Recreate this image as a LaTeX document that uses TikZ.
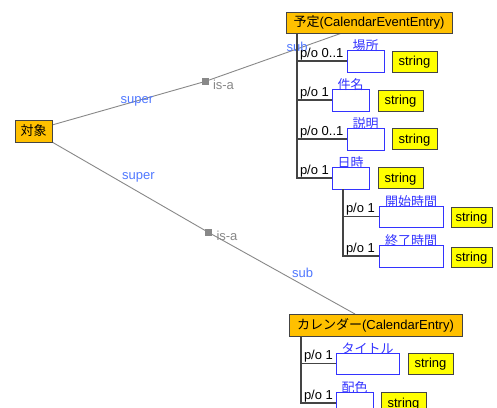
\documentclass[tikz,border=0pt]{standalone}
\usepackage{fontspec}
\usetikzlibrary{calc,backgrounds}
\setmainfont{Liberation Sans}
\newfontfamily\jp{Noto Sans CJK JP}
\definecolor{clsfill}{RGB}{255,192,0}
\definecolor{strfill}{RGB}{255,255,0}
\definecolor{slotblue}{RGB}{51,51,255}
\definecolor{relblue}{RGB}{80,120,255}
\definecolor{linegray}{RGB}{136,136,136}
\definecolor{treegray}{RGB}{68,68,68}
\tikzset{
  base/.style={inner sep=0pt, outer sep=0pt, font=\fontsize{13}{15}\selectfont},
  boxtext/.style={text height=10.5pt, text depth=2pt},
  clsbox/.style={base, boxtext, draw=treegray, fill=clsfill, line width=1pt, minimum height=21pt},
  strbox/.style={base, boxtext, draw=treegray, fill=strfill, line width=1pt, minimum width=45pt, minimum height=21pt},
  slotbox/.style={base, draw=slotblue, fill=white, line width=1pt, minimum height=22pt},
  slotname/.style={base, text=slotblue, anchor=south, inner sep=0pt, yshift=-1.5pt},
  polabel/.style={base, anchor=south west, inner sep=1pt, text=black},
  rellabel/.style={base, text=relblue},
  isalabel/.style={base, text=linegray},
  isamark/.style={fill=linegray, minimum size=7pt, inner sep=0pt},
  rel/.style={draw=linegray, line width=0.9pt},
  tree/.style={draw=treegray, line width=1.2pt}
}
\begin{document}
\begin{tikzpicture}[x=1pt,y=-1pt]
\useasboundingbox (0,0) rectangle (497,407);
\clip (0,0) rectangle (497,407);

% class nodes
\node[clsbox, minimum width=37pt, minimum height=22pt] (taisho) at (33.5,131) {\jp 対象};
\node[clsbox, minimum width=166pt] (yotei) at (369,22.5) {{\jp 予定}(CalendarEventEntry)};
\node[clsbox, minimum width=173pt, minimum height=22pt] (kal) at (375.5,325) {{\jp カレンダー}(CalendarEntry)};

% is-a marks
\node[isamark] (m1) at (205,81.5) {};
\node[isamark] (m2) at (208.3,232.3) {};

\begin{scope}[on background layer]
\fill[white] (0,0) rectangle (497,407);
\draw[rel] (taisho.east |- 0,125) -- (m1.center) -- ($(yotei.south west)+(56,0)$);
\draw[rel] (taisho.east |- 0,142) -- (m2.center) -- ($(kal.north west)+(66,0)$);
\end{scope}

\node[isalabel] (l1) at (223.5,84.5) {is-a};
\node[isalabel] (l2) at (227,236) {is-a};
\node[rellabel] (s1) at (137,101) {super};
\node[rellabel] (s2) at (138.5,177) {super};
\node[rellabel] (b1) at (297,46.5) {sub};
\node[rellabel] (b2) at (302.5,273) {sub};

% slots
\node[slotbox, minimum width=37pt] (basho) at (365.5,61) {};
\node[slotbox, minimum width=37pt] (kenmei) at (350.5,100) {};
\node[slotbox, minimum width=37pt] (setsu) at (365.5,139) {};
\node[slotbox, minimum width=37pt] (nichi) at (350.5,178) {};
\node[slotbox, minimum width=64pt, minimum height=21pt] (kaishi) at (411,216.5) {};
\node[slotbox, minimum width=64pt] (shuryo) at (411,256) {};
\node[slotbox, minimum width=63pt, minimum height=21pt] (title) at (367.5,363.5) {};
\node[slotbox, minimum width=37pt] (haish) at (354.5,403) {};

\node[slotname] (n1) at (basho.north) {\jp 場所};
\node[slotname] (n2) at (kenmei.north) {\jp 件名};
\node[slotname] (n3) at (setsu.north) {\jp 説明};
\node[slotname] (n4) at (nichi.north) {\jp 日時};
\node[slotname] (n5) at (kaishi.north) {\jp 開始時間};
\node[slotname] (n6) at (shuryo.north) {\jp 終了時間};
\node[slotname] (n7) at (title.north) {\jp タイトル};
\node[slotname] (n8) at (haish.north) {\jp 配色};

\node[strbox] (t1) at (414.5,61.5) {string};
\node[strbox] (t2) at (400.5,100.5) {string};
\node[strbox] (t3) at (414.5,139) {string};
\node[strbox] (t4) at (400.5,178) {string};
\node[strbox, minimum width=41pt, minimum height=20pt] (t5) at (471.5,217.5) {string};
\node[strbox, minimum width=41pt, minimum height=20pt] (t6) at (471.5,257) {string};
\node[strbox] (t7) at (430.5,363.5) {string};
\node[strbox] (t8) at (403.5,403) {string};

% tree lines
\coordinate (v1) at ($(yotei.south west)+(11,0)$);
\coordinate (v2) at ($(nichi.south west)+(11,0)$);
\coordinate (v3) at ($(kal.south west)+(12,0)$);
\draw[tree] (v1) |- (nichi.west);
\draw[tree] (v1 |- basho.west) -- (basho.west);
\draw[tree] (v1 |- kenmei.west) -- (kenmei.west);
\draw[tree] (v1 |- setsu.west) -- (setsu.west);
\draw[tree] (v2) |- (shuryo.west);
\draw[tree] (v2 |- kaishi.west) -- (kaishi.west);
\draw[tree] (v3) |- (haish.west);
\draw[tree] (v3 |- title.west) -- (title.west);

\node[polabel] (p1) at ($(v1 |- basho.west)+(2,0)$) {p/o 0..1};
\node[polabel] (p2) at ($(v1 |- kenmei.west)+(2,0)$) {p/o 1};
\node[polabel] (p3) at ($(v1 |- setsu.west)+(2,0)$) {p/o 0..1};
\node[polabel] (p4) at ($(v1 |- nichi.west)+(2,0)$) {p/o 1};
\node[polabel] (p5) at ($(v2 |- kaishi.west)+(2,0)$) {p/o 1};
\node[polabel] (p6) at ($(v2 |- shuryo.west)+(2,0)$) {p/o 1};
\node[polabel] (p7) at ($(v3 |- title.west)+(2,0)$) {p/o 1};
\node[polabel] (p8) at ($(v3 |- haish.west)+(2,0)$) {p/o 1};
\end{tikzpicture}
\end{document}
